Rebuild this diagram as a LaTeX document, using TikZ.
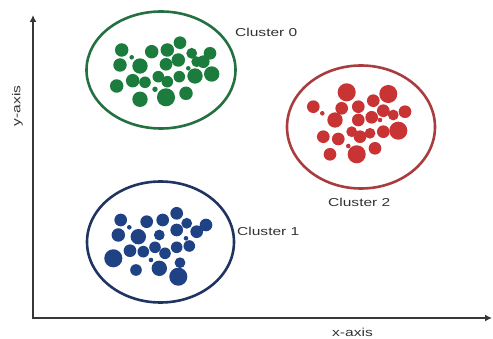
\documentclass[tikz,border=0pt]{standalone}
\usepackage{fontspec}
\newfontfamily\lblfont[FakeStretch=1.35]{Liberation Sans}
\usetikzlibrary{positioning,arrows.meta,shapes.geometric}

\definecolor{clustergreen}{RGB}{28,124,62}
\definecolor{ringgreen}{RGB}{36,112,64}
\definecolor{clusterred}{RGB}{200,52,52}
\definecolor{ringred}{RGB}{168,60,62}
\definecolor{clusterblue}{RGB}{30,66,132}
\definecolor{ringblue}{RGB}{32,52,98}
\definecolor{axisgray}{RGB}{55,55,55}
\definecolor{textgray}{RGB}{50,50,50}

\begin{document}
\begin{tikzpicture}[
    x=1pt, y=-1pt,
    >=Latex,
    ring/.style={
      draw,
      ellipse,
      line width=2.6pt,
      inner sep=0pt,
      minimum width=148pt,
      minimum height=118pt
    },
    lbl/.style={
      font=\lblfont\fontsize{11.5}{13}\selectfont,
      text=textgray,
      inner sep=0pt
    },
    dot/.style={radius={1.35*#1 pt}}
  ]
    \useasboundingbox (0,0) rectangle (493,339);

    % axes
    \coordinate (origin) at (33,318);
    \coordinate (ytip) at (33,15);
    \coordinate (xtip) at (492,318);
    \draw[axisgray, line width=1.9pt, {Latex[length=7pt,width=7pt]}-{Latex[length=7pt,width=7pt]}]
      (ytip) |- (xtip);
    \node[lbl, rotate=90] (ylabel) at (17.5,106) {y-axis};
    \node[lbl] (xlabel) at (352.5,332) {x-axis};

    % cluster 0
    \node[ring, draw=ringgreen, minimum width=149pt, minimum height=117pt] (ring0) at (161,70) {};
    \foreach \x/\y/\r in {121.7/50/5, 131.7/57.3/1.7, 151.7/51.7/5, 167.3/50/5,
        180/42.7/4.7, 191.7/53.3/4, 210/53.3/4.7, 120/65/5, 140/66/5.7,
        166/64.3/4.7, 178.3/60/5, 188.3/68.3/1.7, 196.7/61.7/4, 203.3/61.7/4.7,
        195/76/5.7, 211.7/74/5.7, 116.7/86/5, 132.7/80.7/5, 145/82.3/4.3,
        158.3/76.7/4.3, 167.3/81.7/4.3, 179.3/76.7/4.3, 155/89.3/2,
        140/99.3/5.7, 166/97.3/6.7, 186/93.3/5}
      \fill[clustergreen] (\x,\y) circle[dot=\r];
    \node[lbl, anchor=west] (label0) at (235,32) {Cluster 0};

    % cluster 2
    \node[ring, draw=ringred, minimum width=148pt, minimum height=123pt] (ring2) at (361,127) {};
    \foreach \x/\y/\r in {346.7/92.3/6.7, 388.3/94/6.7, 313.3/106.7/4.7, 322.3/113.3/1.7,
        341.7/108.3/4.7, 358.3/106.7/4.7, 373.3/100.7/4.7, 335/120/5.7,
        358.3/120/4.7, 371.7/117.3/4.7, 383.3/110.7/4.7, 393.3/115/4,
        405/111.7/4.7, 380/120/1.7, 323.3/136.7/4.7, 338.3/139/4.7,
        351.7/131.7/4, 360/136.7/4.7, 370/133.3/4, 383.3/131.7/4.7,
        398.3/130.7/6.7, 348.3/146/1.7, 330/154.3/4.7, 356.7/154.3/6.7,
        375/148.3/4.7}
      \fill[clusterred] (\x,\y) circle[dot=\r];
    \node[lbl, anchor=west] (label2) at (328,202) {Cluster 2};

    % cluster 1
    \node[ring, draw=ringblue, minimum width=147pt, minimum height=121pt] (ring1) at (160.5,242) {};
    \foreach \x/\y/\r in {120.7/220/4.7, 129.3/227.3/1.7, 146.7/221.7/4.7, 162.7/220/4.7,
        176.7/213.3/4.7, 186.7/223.3/4, 206/225/4.7, 118.3/235/5,
        138.3/236.7/5.7, 159.3/235/4, 176.7/230/4.7, 186/238.3/1.7,
        196.7/231.7/4.7, 113.3/258.3/6.7, 130/250.7/4.7, 143.3/251.7/4.3,
        155/247.3/4.3, 165/253.3/4.3, 176.7/247.3/4.3, 189.3/246/4.3,
        151/260/1.7, 136/270/4.3, 159.3/268.3/5.7, 180/262.7/4,
        178.3/276.7/6.7}
      \fill[clusterblue] (\x,\y) circle[dot=\r];
    \node[lbl, anchor=west] (label1) at (237,231) {Cluster 1};
  \end{tikzpicture}
\end{document}
